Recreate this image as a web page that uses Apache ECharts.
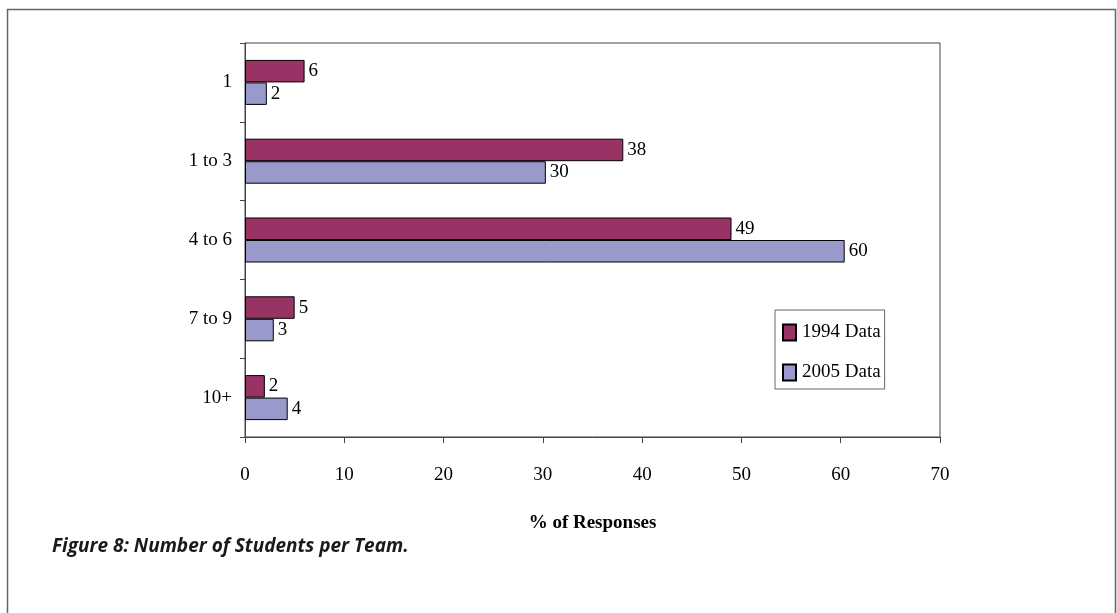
<!DOCTYPE html>
<html>
<head>
<meta charset="utf-8">
<script src="https://cdn.jsdelivr.net/npm/echarts@6/dist/echarts.min.js"></script>
<style>
html,body{margin:0;padding:0;background:#fff;}
#c{width:1117px;height:613px;}
</style>
</head>
<body>
<div id="c"></div>
<script>
var categories = ['1', '1 to 3', '4 to 6', '7 to 9', '10+'];
var data1994 = [6.0, 38.1, 49.0, 5.0, 2.0];
var data2005 = [2.2, 30.3, 60.4, 2.9, 4.3];
var xTicks = [0, 10, 20, 30, 40, 50, 60, 70];

var chart = echarts.init(document.getElementById('c'));
var serif = '"Liberation Serif", "Times New Roman", serif';
var labelCfg = {
  show: true, position: 'right', distance: 4,
  fontFamily: serif, fontSize: 19, color: '#000',
  formatter: function (p) { return Math.round(p.value); }
};
chart.setOption({
  animation: false,
  backgroundColor: '#fff',
  graphic: [
    { type: 'rect', shape: { x: 7.5, y: 9.5, width: 1108, height: 700 },
      style: { fill: 'none', stroke: '#666', lineWidth: 1.5 }, z: 0 },
    { type: 'text', left: 52, top: 537,
      style: { text: 'Figure 8: Number of Students per Team.', fontFamily: '"Open Sans", Lato, sans-serif',
        fontWeight: 'bold', fontStyle: 'italic', fontSize: 19, fill: '#1a1a1a' } }
  ],
  grid: { left: 245, top: 43, right: 177, bottom: 176, show: true, borderColor: '#444', borderWidth: 1, backgroundColor: 'transparent' },
  legend: {
    orient: 'vertical', left: 775, top: 310, width: 95,
    padding: [13, 4, 7, 7], itemGap: 21,
    borderColor: '#666', borderWidth: 1,
    icon: 'rect', itemWidth: 13, itemHeight: 16,
    textStyle: { fontFamily: serif, fontSize: 19, color: '#000', padding: [0, 0, 0, 1] },
    data: ['1994 Data', '2005 Data']
  },
  xAxis: {
    type: 'value', min: 0, max: 70, interval: 10,
    name: '% of Responses', nameLocation: 'middle', nameGap: 77,
    nameTextStyle: { fontFamily: serif, fontSize: 19, fontWeight: 'bold', color: '#000' },
    axisLine: { show: true, lineStyle: { color: '#444' } },
    axisTick: { show: true, length: 6, lineStyle: { color: '#444' } },
    axisLabel: { fontFamily: serif, fontSize: 19, color: '#000', margin: 29,
      formatter: function (v) { return xTicks.indexOf(v) >= 0 ? String(v) : ''; } },
    splitLine: { show: false }
  },
  yAxis: {
    type: 'category', data: categories, inverse: true,
    axisLine: { show: true, lineStyle: { color: '#444' } },
    axisTick: { show: true, length: 5, inside: false, lineStyle: { color: '#444' } },
    axisLabel: { fontFamily: serif, fontSize: 19, color: '#000', margin: 13 }
  },
  series: [
    { name: '1994 Data', type: 'bar', data: data1994, barWidth: 22.5, barGap: '0%',
      itemStyle: { color: '#993366', borderColor: '#000', borderWidth: 1 }, label: labelCfg },
    { name: '2005 Data', type: 'bar', data: data2005, barWidth: 22.5, barGap: '0%',
      itemStyle: { color: '#9999CC', borderColor: '#000', borderWidth: 1 }, label: labelCfg }
  ]
});
</script>
</body>
</html>
